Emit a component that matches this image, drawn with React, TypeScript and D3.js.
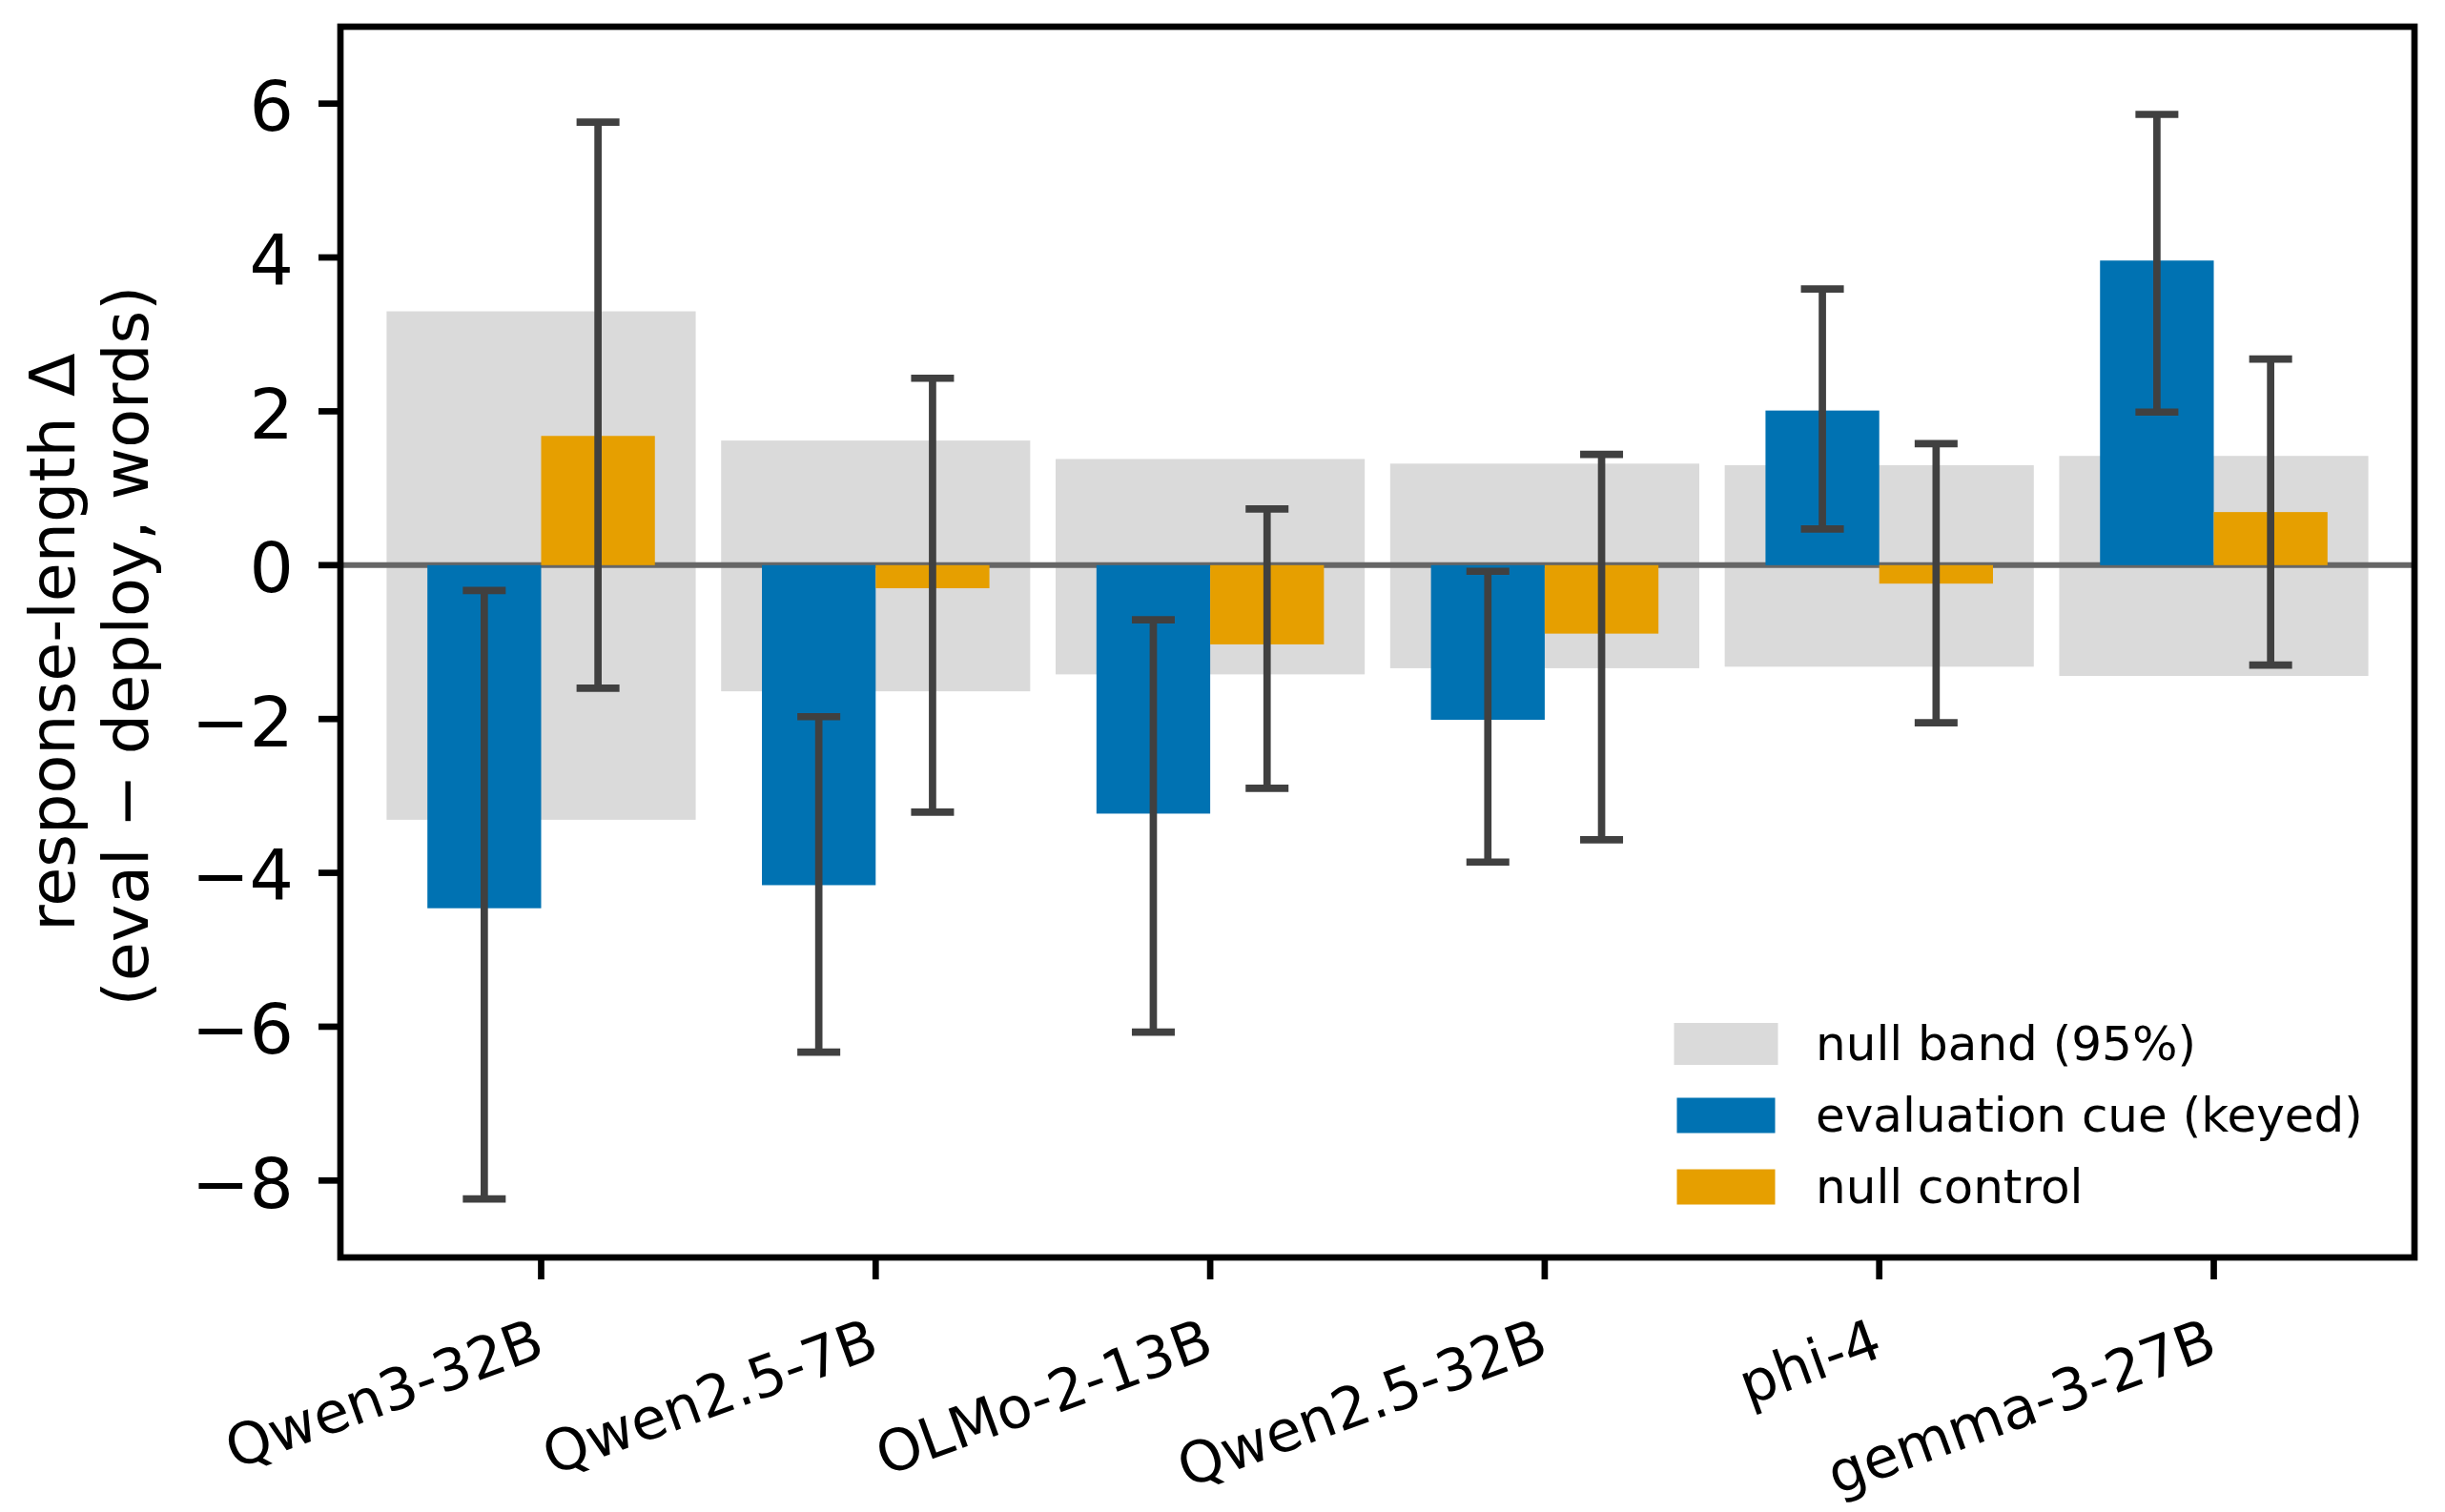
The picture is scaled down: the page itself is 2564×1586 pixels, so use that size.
import { useEffect } from 'react';
import * as d3 from 'd3';

const models = ['Qwen3-32B', 'Qwen2.5-7B', 'OLMo-2-13B', 'Qwen2.5-32B', 'phi-4', 'gemma-3-27B'];

// null band (95%) per model
const bandLo = [-3.31, -1.64, -1.42, -1.34, -1.32, -1.44];
const bandHi = [3.30, 1.62, 1.38, 1.32, 1.30, 1.42];

// evaluation cue (keyed)
const evalDelta = [-4.46, -4.16, -3.23, -2.01, 2.01, 3.96];
const evalLo = [-8.24, -6.33, -6.07, -3.86, 0.47, 1.99];
const evalHi = [-0.33, -1.97, -0.71, -0.08, 3.59, 5.86];

// null control
const nullDelta = [1.68, -0.30, -1.03, -0.89, -0.24, 0.69];
const nullLo = [-1.60, -3.21, -2.90, -3.57, -2.05, -1.30];
const nullHi = [5.76, 2.43, 0.73, 1.44, 1.58, 2.68];

const yTicks = [-8, -6, -4, -2, 0, 2, 4, 6];

const legendItems = [
  { label: 'null band (95%)', color: '#dadada', big: true },
  { label: 'evaluation cue (keyed)', color: '#0072B2', big: false },
  { label: 'null control', color: '#E69F00', big: false },
];

const W = 2564;
const H = 1586;
const m = { left: 357, right: 2532, top: 28, bottom: 1319 };
const font = '"DejaVu Sans", sans-serif';

export default function App() {
  useEffect(() => {
    document.body.style.margin = '0';
  }, []);

  const x = d3.scaleLinear().domain([-0.6, 5.6]).range([m.left, m.right]);
  const y = d3.scaleLinear().domain([-9, 7]).range([m.bottom, m.top]);
  const unit = x(1) - x(0);
  const barW = 0.34 * unit;
  const bandW = 0.924 * unit;
  const capHalf = 22.5;
  const errColor = '#404040';
  const midY = (m.top + m.bottom) / 2;

  const bar = (i: number, v: number, off: number, color: string) => (
    <rect
      key={`${color}-${i}`}
      x={x(i + off) - barW / 2}
      y={Math.min(y(v), y(0))}
      width={barW}
      height={Math.abs(y(v) - y(0))}
      fill={color}
    />
  );

  const err = (i: number, lo: number, hi: number, off: number, key: string) => {
    const cx = x(i + off);
    return (
      <g key={key} stroke={errColor} strokeWidth={7.7}>
        <line x1={cx} x2={cx} y1={y(lo)} y2={y(hi)} />
        <line x1={cx - capHalf} x2={cx + capHalf} y1={y(lo)} y2={y(lo)} />
        <line x1={cx - capHalf} x2={cx + capHalf} y1={y(hi)} y2={y(hi)} />
      </g>
    );
  };

  return (
    <svg width={W} height={H} viewBox={`0 0 ${W} ${H}`} style={{ display: 'block', background: '#fff' }}>
      <defs>
        <clipPath id="plot">
          <rect x={m.left} y={m.top} width={m.right - m.left} height={m.bottom - m.top} />
        </clipPath>
      </defs>
      <g clipPath="url(#plot)">
        {models.map((_, i) => (
          <rect
            key={`band-${i}`}
            x={x(i) - bandW / 2}
            y={y(bandHi[i])}
            width={bandW}
            height={y(bandLo[i]) - y(bandHi[i])}
            fill="#dadada"
          />
        ))}
        <line x1={m.left} x2={m.right} y1={y(0)} y2={y(0)} stroke="#666666" strokeWidth={6} />
        {models.map((_, i) => bar(i, evalDelta[i], -0.17, '#0072B2'))}
        {models.map((_, i) => bar(i, nullDelta[i], 0.17, '#E69F00'))}
        {models.map((_, i) => err(i, evalLo[i], evalHi[i], -0.17, `ee-${i}`))}
        {models.map((_, i) => err(i, nullLo[i], nullHi[i], 0.17, `ne-${i}`))}
      </g>

      {/* frame */}
      <rect
        x={m.left}
        y={m.top}
        width={m.right - m.left}
        height={m.bottom - m.top}
        fill="none"
        stroke="#000"
        strokeWidth={6.7}
      />

      {/* y axis */}
      {yTicks.map((t) => (
        <g key={`yt-${t}`}>
          <line x1={m.left - 23} x2={m.left} y1={y(t)} y2={y(t)} stroke="#000" strokeWidth={6.7} />
          <text
            x={m.left - 49}
            y={y(t)}
            dy={3}
            textAnchor="end"
            dominantBaseline="central"
            fontFamily={font}
            fontSize={73}
          >
            {t < 0 ? `\u2212${Math.abs(t)}` : t}
          </text>
        </g>
      ))}
      <text
        transform={`translate(78, ${midY}) rotate(-90)`}
        textAnchor="middle"
        fontFamily={font}
        fontSize={66.7}
      >
        response-length Δ
      </text>
      <text
        transform={`translate(155, ${midY + 4}) rotate(-90)`}
        textAnchor="middle"
        fontFamily={font}
        fontSize={66.7}
      >
        (eval − deploy, words)
      </text>

      {/* x axis */}
      {models.map((name, i) => (
        <g key={`xt-${i}`}>
          <line x1={x(i)} x2={x(i)} y1={m.bottom} y2={m.bottom + 23} stroke="#000" strokeWidth={6.7} />
          <text
            transform={`translate(${x(i) + 6}, ${m.bottom + 103}) rotate(-20)`}
            textAnchor="end"
            fontFamily={font}
            fontSize={60}
          >
            {name}
          </text>
        </g>
      ))}

      {/* legend */}
      {legendItems.map((d, i) => {
        const cy = 1095 + i * 75;
        const h = d.big ? 44 : 37;
        const w = d.big ? 109 : 103;
        return (
          <g key={`lg-${i}`}>
            <rect x={1810 - w / 2} y={cy - h / 2} width={w} height={h} fill={d.color} />
            <text x={1904} y={cy} dominantBaseline="central" fontFamily={font} fontSize={50}>
              {d.label}
            </text>
          </g>
        );
      })}
    </svg>
  );
}
